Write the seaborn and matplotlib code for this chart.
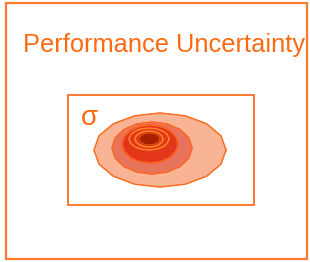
import numpy as np
import matplotlib as mpl
mpl.use('Agg')
import matplotlib.pyplot as plt
import seaborn as sns
from matplotlib.patches import Rectangle

# nested uncertainty contours, outer -> inner (pixel space of the slide)
level_cx = [160, 152, 150, 149, 149, 149.5]
level_cy = [150, 148, 144, 139, 139, 139]
level_rx = [66, 40, 28, 20, 14, 10.5]
level_ry = [37, 26, 19, 11, 8, 6]
level_fill = ['#F9B496', '#E9745E', '#E4361A', '#E4361A', '#E23C18', '#A91F02']
level_edge = ['#FF6A1A', '#FF6A1A', '#FF6A1A', '#FF8A2A', '#FF8A2A', '#E04A10']

title = 'Performance Uncertainty'
symbol = 'σ'
orange = '#FF6A10'

sns.set_style('white')
plt.rcParams['font.family'] = ['Liberation Sans', 'DejaVu Sans']

fig = plt.figure(figsize=(3.1, 2.62), dpi=100)
ax = fig.add_axes([0, 0, 1, 1])
ax.set_xlim(0, 310)
ax.set_ylim(262, 0)
ax.axis('off')

ax.add_patch(Rectangle((6, 3), 301, 256, fill=False, ec='#FF7A30', lw=1.6))
ax.add_patch(Rectangle((68, 95), 186, 110, fill=False, ec='#FF7A30', lw=1.4))

t = np.linspace(0, 2 * np.pi, 17)
for cx, cy, rx, ry, fc, ec in zip(level_cx, level_cy, level_rx, level_ry, level_fill, level_edge):
    xs = cx + rx * np.cos(t)
    ys = cy + ry * np.sin(t)
    ax.fill(xs, ys, color=fc, zorder=2)
    sns.lineplot(x=xs, y=ys, sort=False, estimator=None, color=ec, lw=1.0, ax=ax, zorder=3)

ax.text(164, 45, title, color=orange, fontsize=18.3, ha='center', va='center')
ax.text(89, 118, symbol, color=orange, fontsize=20, ha='center', va='center')

fig.savefig('out.png', dpi=100)
